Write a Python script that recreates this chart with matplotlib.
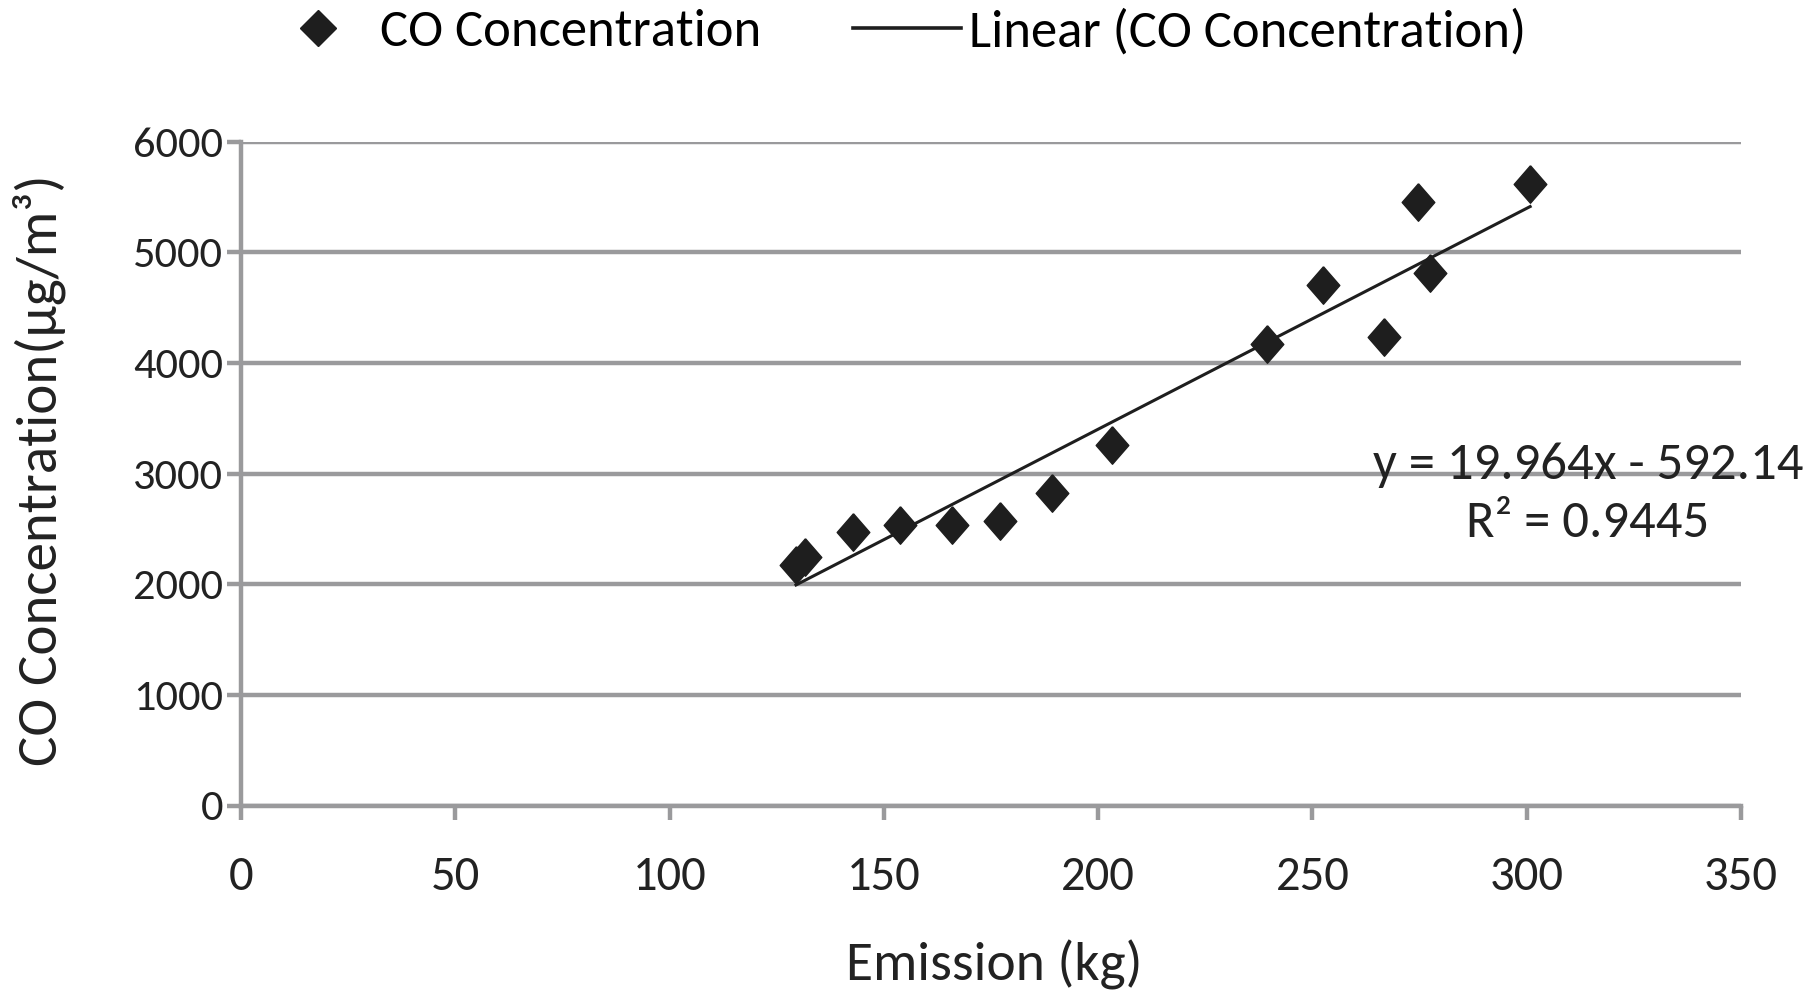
import numpy as np
import matplotlib
matplotlib.use('Agg')
import matplotlib.pyplot as plt
from matplotlib.lines import Line2D

# data
emission = [129.5, 131.5, 142.8, 153.8, 165.9, 177.1, 189.3, 203.2,
            239.5, 252.5, 266.6, 274.7, 277.4, 300.8]
co_conc = [2170, 2250, 2472, 2535, 2535, 2572, 2822, 3262,
           4175, 4700, 4238, 5455, 4815, 5617]
slope = 19.964
intercept = -592.14
r2 = 0.9445

xticks = [0, 50, 100, 150, 200, 250, 300, 350]
yticks = [0, 1000, 2000, 3000, 4000, 5000, 6000]

font = ['Carlito', 'Liberation Sans', 'DejaVu Sans']
plt.rcParams['font.family'] = font
grid_c = '#9a9a9c'
ink = '#1e1e1e'

# slightly tall diamond like the Excel marker
tall_diamond = [(0, 1), (0.87, 0), (0, -1), (-0.87, 0), (0, 1)]

fig = plt.figure(figsize=(18.2, 9.9), dpi=100)
ax = fig.add_axes([241 / 1820, 1 - 805.5 / 990, 1500 / 1820, 663.9 / 990])

ax.plot(emission, co_conc, linestyle='none', marker=tall_diamond,
        markersize=27, color=ink, zorder=3)
xs = np.array([min(emission), max(emission)])
ax.plot(xs, slope * xs + intercept, color=ink, lw=2.2, zorder=4)

ax.set_xlim(0, 350)
ax.set_ylim(0, 6000)
ax.set_xticks(xticks)
ax.set_yticks(yticks)
ax.yaxis.grid(True, color=grid_c, lw=3.2)
ax.set_axisbelow(True)
for s in ['top', 'right']:
    ax.spines[s].set_visible(False)
for s in ['left', 'bottom']:
    ax.spines[s].set_color(grid_c)
    ax.spines[s].set_linewidth(3.2)
ax.tick_params(axis='both', colors=grid_c, width=3.2, length=10,
               labelcolor='#222222')
ax.tick_params(axis='x', labelsize=35, pad=26)
ax.tick_params(axis='y', labelsize=32, pad=3)

fig.text(994 / 1820, 9 / 990, 'Emission (kg)', ha='center', va='baseline',
         fontsize=40, color='#222222')
fig.text(57 / 1820, 1 - 470 / 990, 'CO Concentration(\u00b5g/m\u00b3)',
         rotation=90, rotation_mode='anchor', ha='center', va='baseline',
         fontsize=41, color='#222222')

eq = 'y = %.3fx - %.2f\nR\u00b2 = %.4f' % (slope, -intercept, r2)
ax.text(0.898, 0.469, eq, transform=ax.transAxes, ha='center', va='center',
        fontsize=38, color='#222222', linespacing=1.32)

handles = [Line2D([], [], linestyle='none', marker='D', markersize=18,
                  color=ink),
           Line2D([], [], color=ink, lw=2.6)]
fig.legend(handles, ['CO Concentration', 'Linear (CO Concentration)'],
           loc='center left', bbox_to_anchor=(264 / 1820, 1 - 32 / 990),
           ncol=2, frameon=False, prop={'size': 38}, borderpad=0,
           borderaxespad=0, handlelength=2.05, handletextpad=0.15,
           columnspacing=1.74)

fig.savefig('out.png', dpi=100)
